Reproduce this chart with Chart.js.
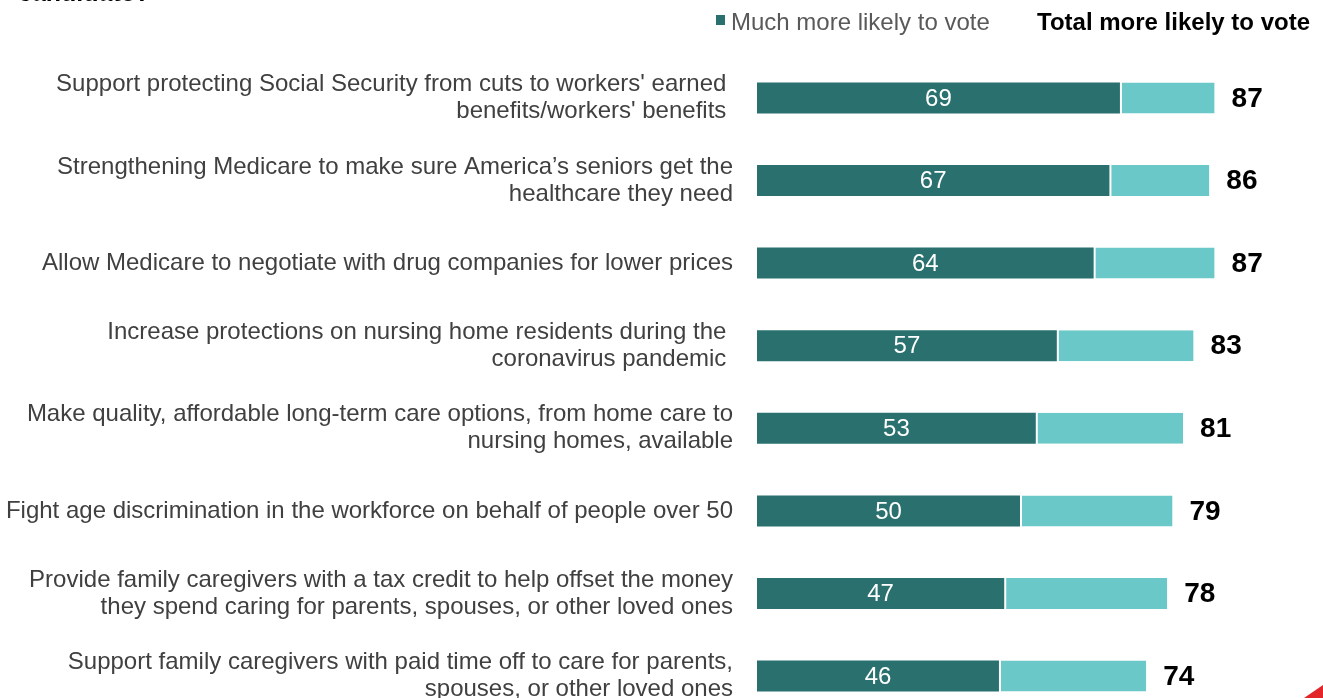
<!DOCTYPE html>
<html>
<head>
<meta charset="utf-8">
<script src="https://cdn.jsdelivr.net/npm/chart.js@4.4.1/dist/chart.umd.min.js"></script>
<style>
  html, body { margin: 0; padding: 0; background: #ffffff; overflow: hidden; }
  #wrap { position: relative; width: 1323px; height: 718px; }
</style>
</head>
<body>
<div id="wrap"><canvas id="c"></canvas></div>
<script>
// ---- data ----
const categories = [
  ["Support protecting Social Security from cuts to workers' earned ", "benefits/workers' benefits "],
  ["Strengthening Medicare to make sure America\u2019s seniors get the", "healthcare they need"],
  "Allow Medicare to negotiate with drug companies for lower prices",
  ["Increase protections on nursing home residents during the ", "coronavirus pandemic "],
  ["Make quality, affordable long-term care options, from home care to", "nursing homes, available"],
  "Fight age discrimination in the workforce on behalf of people over 50",
  ["Provide family caregivers with a tax credit to help offset the money", "they spend caring for parents, spouses, or other loved ones"],
  ["Support family caregivers with paid time off to care for parents,", "spouses, or other loved ones"]
];
const muchMoreLikely = [69, 67, 64, 57, 53, 50, 47, 46];
const totalMoreLikely = [87, 86, 87, 83, 81, 79, 78, 74];
const legendMuch = "Much more likely to vote";
const legendTotal = "Total more likely to vote";
const titleText = "candidate?";

const FONT = "'Liberation Sans', Arial, Helvetica, sans-serif";
const DARK = "#29706F";
const LIGHT = "#6AC8C8";

const totalRange = totalMoreLikely.map((t, i) => [muchMoreLikely[i], t]);

const decorPlugin = {
  id: 'decor',
  afterDatasetsDraw(chart) {
    const ctx = chart.ctx;
    const darkMeta = chart.getDatasetMeta(0);
    const lightMeta = chart.getDatasetMeta(1);
    ctx.save();
    ctx.font = "24px " + FONT;
    ctx.fillStyle = "#ffffff";
    ctx.textAlign = "center";
    ctx.textBaseline = "middle";
    darkMeta.data.forEach((bar, i) => {
      ctx.fillText(String(muchMoreLikely[i]), (bar.x + bar.base) / 2, bar.y + 1);
    });
    ctx.font = "bold 28px " + FONT;
    ctx.fillStyle = "#000000";
    ctx.textAlign = "left";
    lightMeta.data.forEach((bar, i) => {
      ctx.fillText(String(totalMoreLikely[i]), bar.x + 17, bar.y + 1);
    });
    ctx.restore();
  },
  afterDraw(chart) {
    const ctx = chart.ctx;
    ctx.save();
    ctx.font = "bold 25px " + FONT;
    ctx.fillStyle = "#000000";
    ctx.textAlign = "left";
    ctx.textBaseline = "alphabetic";
    ctx.fillText(titleText, 18, 1);
    ctx.fillStyle = DARK;
    ctx.fillRect(716, 15, 9, 10);
    ctx.font = "24px " + FONT;
    ctx.fillStyle = "#595959";
    ctx.fillText(legendMuch, 731, 30);
    ctx.font = "bold 24px " + FONT;
    ctx.fillStyle = "#000000";
    ctx.textAlign = "right";
    ctx.fillText(legendTotal, 1310, 30);
    ctx.fillStyle = "#E3262A";
    ctx.beginPath();
    ctx.moveTo(1304, 698);
    ctx.lineTo(1323, 685);
    ctx.lineTo(1323, 698);
    ctx.closePath();
    ctx.fill();
    ctx.restore();
  }
};

new Chart(document.getElementById('c'), {
  type: 'bar',
  data: {
    labels: categories,
    datasets: [
      {
        label: legendMuch,
        data: muchMoreLikely,
        backgroundColor: DARK,
        borderWidth: 0,
        grouped: false,
        order: 0,
        barPercentage: 1,
        categoryPercentage: 0.375
      },
      {
        label: legendTotal,
        data: totalRange,
        backgroundColor: LIGHT,
        borderColor: "#ffffff",
        borderWidth: { left: 2, right: 0, top: 0, bottom: 0 },
        borderSkipped: false,
        grouped: false,
        order: 1,
        barPercentage: 1,
        categoryPercentage: 0.375
      }
    ]
  },
  options: {
    indexAxis: 'y',
    responsive: true,
    maintainAspectRatio: false,
    animation: false,
    layout: { padding: { top: 56.6, bottom: 0.6, left: 0, right: 40 } },
    plugins: {
      legend: { display: false },
      tooltip: { enabled: false },
      title: { display: false }
    },
    scales: {
      x: {
        min: 0,
        max: 100,
        display: false,
        grid: { display: false }
      },
      y: {
        grid: { display: false, drawTicks: false },
        border: { display: false },
        ticks: {
          padding: 24,
          color: "#404040",
          font: { family: FONT, size: 24, lineHeight: 1.125 }
        },
        afterFit(scale) {
          scale.width = 757;
          scale.paddingTop = 0;
          scale.paddingBottom = 0;
        }
      }
    }
  },
  plugins: [decorPlugin]
});
</script>
</body>
</html>
